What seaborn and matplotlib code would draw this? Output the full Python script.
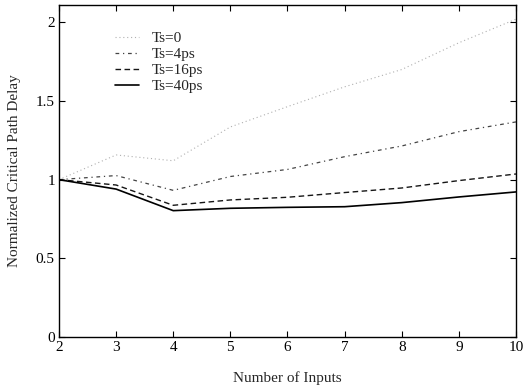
import matplotlib
matplotlib.use("Agg")
import matplotlib.pyplot as plt
import seaborn as sns
import pandas as pd

inputs = [2, 3, 4, 5, 6, 7, 8, 9, 10]
ts0 = [1.0, 1.157, 1.12, 1.335, 1.464, 1.59, 1.70, 1.87, 2.02]
ts4 = [1.0, 1.026, 0.932, 1.02, 1.065, 1.146, 1.214, 1.305, 1.367]
ts16 = [1.0, 0.966, 0.837, 0.871, 0.888, 0.918, 0.947, 0.994, 1.036]
ts40 = [1.0, 0.94, 0.803, 0.818, 0.824, 0.828, 0.854, 0.89, 0.922]
labels = ["Ts=0", "Ts=4ps", "Ts=16ps", "Ts=40ps"]
xticks = [2, 3, 4, 5, 6, 7, 8, 9, 10]
yticks = [0, 0.5, 1, 1.5, 2]
ytick_labels = ["0", "0.5", "1", "1.5", "2"]

rows = []
for lab, vals in zip(labels, [ts0, ts4, ts16, ts40]):
    for x, v in zip(inputs, vals):
        rows.append({"Number of Inputs": x, "delay": v, "series": lab})
df = pd.DataFrame(rows)

sns.set_theme(style="ticks")
plt.rcParams["font.family"] = ["Liberation Serif", "DejaVu Serif"]

fig = plt.figure(figsize=(5.24, 3.85), dpi=100)
ax = fig.add_axes([0.1126, 0.1247, 0.8721, 0.8623])

palette = {"Ts=0": "#b0b0b0", "Ts=4ps": "#444444", "Ts=16ps": "#161616", "Ts=40ps": "#000000"}
dashes = {"Ts=0": (1, 2.5), "Ts=4ps": (3, 3, 1, 3), "Ts=16ps": (4, 2.5), "Ts=40ps": ""}
widths = {"Ts=0": 0.8, "Ts=4ps": 0.9, "Ts=16ps": 1.0, "Ts=40ps": 1.2}

sns.lineplot(data=df, x="Number of Inputs", y="delay", hue="series", style="series",
             palette=palette, dashes=dashes, hue_order=labels, style_order=labels,
             ax=ax, legend=True)
for line, lab in zip(ax.get_lines(), labels):
    line.set_linewidth(widths[lab])

ax.set_xlim(2, 10)
ax.set_ylim(0, 2.11)
ax.set_xticks(xticks)
ax.set_yticks(yticks)
ax.set_yticklabels(ytick_labels)
ax.tick_params(direction="in", top=True, right=True, length=4, width=0.8,
               labelsize=11, colors="black", pad=3)
for s in ax.spines.values():
    s.set_linewidth(1.0)
    s.set_color("black")
ax.set_xlabel("Number of Inputs", fontsize=11, labelpad=12)
ax.set_ylabel("Normalized Critical Path Delay", fontsize=11, labelpad=11)

handles, lbls = ax.get_legend_handles_labels()
for h, lab in zip(handles, lbls):
    if lab in widths:
        h.set_linewidth(widths[lab])
leg = ax.legend(handles, lbls, loc="upper left", bbox_to_anchor=(0.092, 0.962),
                frameon=False, fontsize=11, handlelength=1.6, handletextpad=0.8,
                labelspacing=0.15)

fig.savefig("out.png", dpi=100)
